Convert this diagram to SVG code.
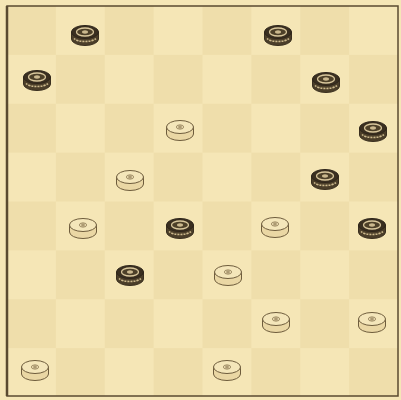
<svg xmlns="http://www.w3.org/2000/svg" xmlns:xlink="http://www.w3.org/1999/xlink" width="401" height="400" viewBox="0 0 401 400">
<style>
.side-l{fill:#ead7a4;stroke:#6e5c3c;stroke-width:1}
.top-l{fill:#f4e6ba;stroke:#6e5c3c;stroke-width:1}
.dot-l{fill:none;stroke:#8c7852;stroke-width:0.9}
.side-d{fill:#4b3e29;stroke:#3a2f1f;stroke-width:1}
.top-d{fill:#3a2f20;stroke:#2e251a;stroke-width:1}
.ring-d{fill:#4d4029;stroke:#d9c79c;stroke-width:1.3}
.stripe-d{fill:none;stroke:#cdb98c;stroke-width:1.6;stroke-dasharray:2 1}
</style>
<defs>
<pattern id="chk" patternUnits="userSpaceOnUse" x="7" y="6" width="97.75" height="97.75">
<rect width="97.75" height="97.75" fill="#f5e6b6"/>
<rect width="48.875" height="48.875" fill="#efdeab"/>
<rect x="48.875" y="48.875" width="48.875" height="48.875" fill="#efdeab"/>
</pattern>
<g id="light">
<path class="side-l" d="M-13.5,-3 L-13.5,4 A13.5 6.5 0 0 0 13.5 4 L13.5,-3 Z"/>
<ellipse class="top-l" cx="0" cy="-3" rx="13.5" ry="6.5"/>
<ellipse class="dot-l" cx="0" cy="-3" rx="3.6" ry="2.1"/>
<ellipse class="dot-l" cx="0" cy="-3" rx="1.5" ry="0.9"/>
</g>
<g id="dark">
<path class="side-d" d="M-13.5,-3 L-13.5,4 A13.5 6.5 0 0 0 13.5 4 L13.5,-3 Z"/>
<path class="stripe-d" d="M-11,3.5 A12 5 0 0 0 11 3.5"/>
<ellipse class="top-d" cx="0" cy="-3" rx="13.5" ry="6.5"/>
<ellipse class="ring-d" cx="0" cy="-3" rx="8.5" ry="4"/>
<ellipse fill="#cbb88e" cx="0" cy="-3" rx="3" ry="1.7"/>
</g>
</defs>
<g id="board">
<rect x="0" y="0" width="401" height="400" fill="#f5e6b6"/>
<rect x="7" y="6" width="391" height="390" fill="url(#chk)"/>
<rect x="7" y="6" width="391" height="390" fill="none" stroke="#5a4a30" stroke-width="1.5"/>
<line x1="7" y1="6" x2="7" y2="396" stroke="#5a4a30" stroke-width="2.5"/>
</g>
<g id="pieces">
<g id="d1"><use xlink:href="#dark" x="85" y="35"/></g>
<g id="d2"><use xlink:href="#dark" x="278" y="35"/></g>
<g id="d3"><use xlink:href="#dark" x="37" y="80"/></g>
<g id="d4"><use xlink:href="#dark" x="326" y="82"/></g>
<g id="l1"><use xlink:href="#light" x="180" y="130"/></g>
<g id="d5"><use xlink:href="#dark" x="373" y="131"/></g>
<g id="l2"><use xlink:href="#light" x="130" y="180"/></g>
<g id="d6"><use xlink:href="#dark" x="325" y="179"/></g>
<g id="l3"><use xlink:href="#light" x="83" y="228"/></g>
<g id="d7"><use xlink:href="#dark" x="180" y="228"/></g>
<g id="l4"><use xlink:href="#light" x="275" y="227"/></g>
<g id="d8"><use xlink:href="#dark" x="372" y="228"/></g>
<g id="d9"><use xlink:href="#dark" x="130" y="275"/></g>
<g id="l5"><use xlink:href="#light" x="228" y="275"/></g>
<g id="l6"><use xlink:href="#light" x="276" y="322"/></g>
<g id="l7"><use xlink:href="#light" x="372" y="322"/></g>
<g id="l8"><use xlink:href="#light" x="35" y="370"/></g>
<g id="l9"><use xlink:href="#light" x="227" y="370"/></g>
</g>
</svg>
